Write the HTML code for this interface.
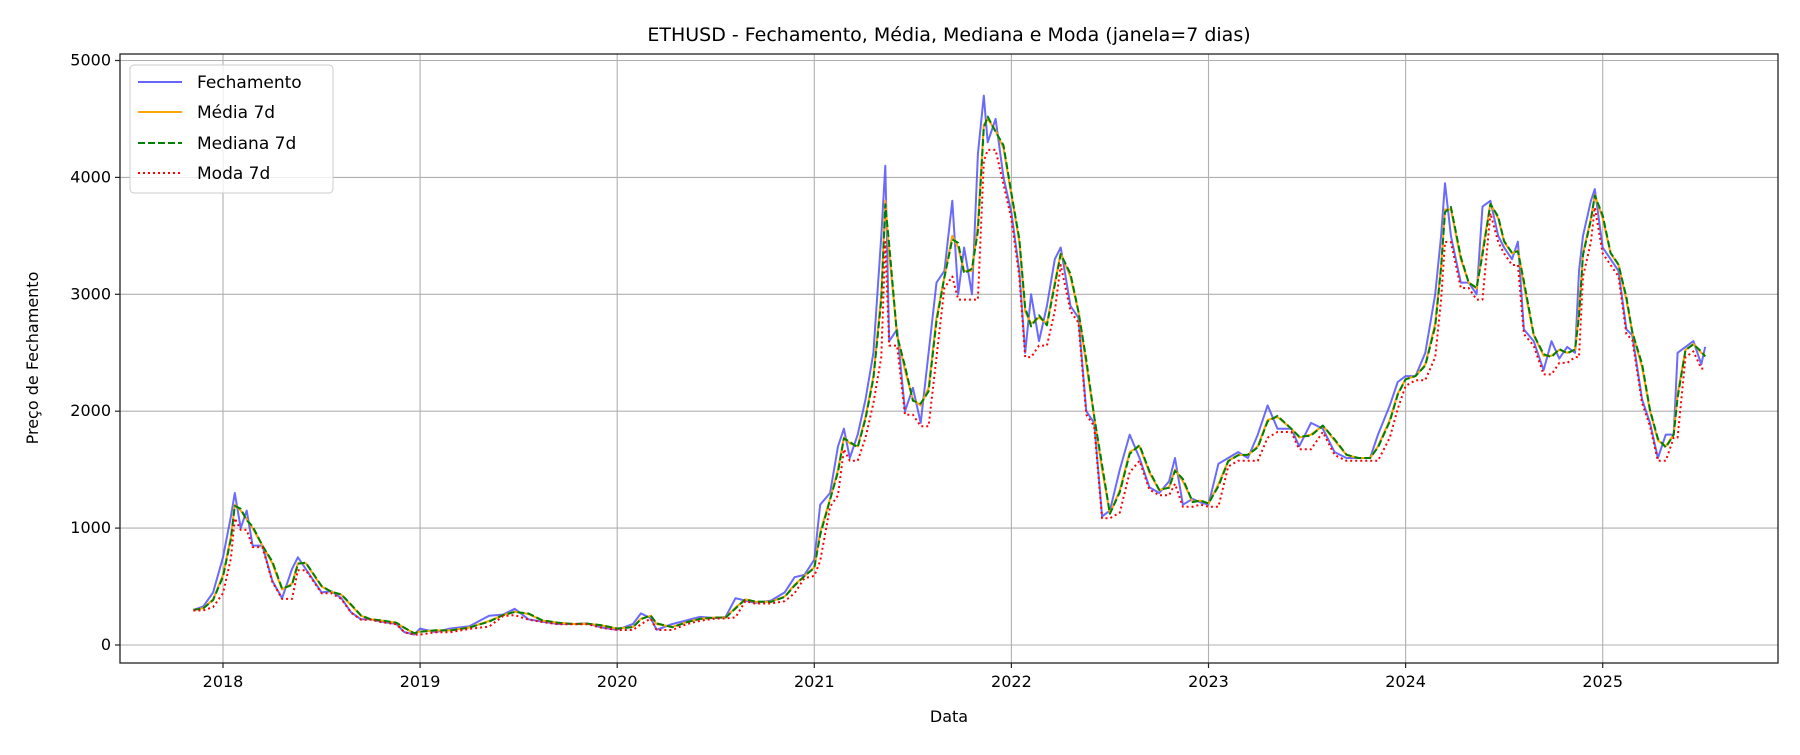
<!DOCTYPE html>
<html><head><meta charset="utf-8"><style>
body{margin:0;background:#fff;}
svg text{font-family:"DejaVu Sans","Liberation Sans",sans-serif;fill:#000;}
</style></head><body>
<svg id="chart" width="1800" height="750" xmlns="http://www.w3.org/2000/svg">
<rect width="1800" height="750" fill="#fff"/>
<text x="949" y="41" font-size="19" text-anchor="middle">ETHUSD - Fechamento, Média, Mediana e Moda (janela=7 dias)</text>
<g id="grid"></g>
<g id="series"></g>
<rect x="120" y="54" width="1658" height="609" fill="none" stroke="#222" stroke-width="1.3"/>
<g id="ticks"></g>
<text x="949" y="722" font-size="16" text-anchor="middle">Data</text>
<text x="0" y="0" font-size="16" text-anchor="middle" transform="translate(38,358) rotate(-90)">Preço de Fechamento</text>
<g>
<rect x="130" y="65" width="203" height="128" rx="4" fill="#fff" fill-opacity="0.8" stroke="#ccc"/>
<line x1="138" y1="82" x2="182" y2="82" stroke="#6666ff" stroke-width="2"/>
<text x="197" y="88" font-size="17">Fechamento</text>
<line x1="138" y1="112" x2="182" y2="112" stroke="orange" stroke-width="2"/>
<text x="197" y="118" font-size="17">Média 7d</text>
<line x1="138" y1="143" x2="182" y2="143" stroke="green" stroke-width="2" stroke-dasharray="7,3"/>
<text x="197" y="149" font-size="17">Mediana 7d</text>
<line x1="138" y1="173" x2="182" y2="173" stroke="red" stroke-width="2" stroke-dasharray="2,3"/>
<text x="197" y="179" font-size="17">Moda 7d</text>
</g>
</svg>
<script>
const dates=[2017.85,2017.9,2017.95,2018.0,2018.04,2018.06,2018.09,2018.12,2018.15,2018.2,2018.25,2018.3,2018.35,2018.38,2018.42,2018.46,2018.5,2018.55,2018.6,2018.65,2018.7,2018.75,2018.8,2018.88,2018.92,2018.97,2019.0,2019.08,2019.15,2019.25,2019.35,2019.42,2019.48,2019.55,2019.62,2019.7,2019.78,2019.85,2019.92,2020.0,2020.08,2020.12,2020.17,2020.2,2020.28,2020.35,2020.42,2020.5,2020.55,2020.6,2020.65,2020.7,2020.78,2020.85,2020.9,2020.95,2021.0,2021.03,2021.08,2021.12,2021.15,2021.18,2021.22,2021.26,2021.3,2021.34,2021.36,2021.38,2021.42,2021.46,2021.5,2021.54,2021.58,2021.62,2021.66,2021.7,2021.73,2021.76,2021.8,2021.83,2021.86,2021.88,2021.92,2021.96,2022.0,2022.04,2022.07,2022.1,2022.14,2022.18,2022.22,2022.25,2022.3,2022.34,2022.38,2022.42,2022.46,2022.5,2022.55,2022.6,2022.65,2022.7,2022.75,2022.8,2022.83,2022.87,2022.92,2022.96,2023.0,2023.05,2023.1,2023.15,2023.2,2023.25,2023.3,2023.35,2023.42,2023.46,2023.52,2023.58,2023.64,2023.7,2023.76,2023.82,2023.86,2023.92,2023.96,2024.0,2024.05,2024.1,2024.15,2024.18,2024.2,2024.23,2024.28,2024.32,2024.36,2024.39,2024.43,2024.47,2024.5,2024.54,2024.57,2024.6,2024.65,2024.7,2024.74,2024.78,2024.82,2024.86,2024.88,2024.9,2024.94,2024.96,2025.0,2025.04,2025.08,2025.12,2025.15,2025.2,2025.24,2025.28,2025.32,2025.36,2025.38,2025.42,2025.46,2025.5,2025.52];
const closes=[300,330,450,750,1100,1300,1000,1150,850,850,550,400,650,750,650,550,450,460,400,280,220,220,200,180,110,90,140,110,140,160,250,260,310,220,200,180,180,185,150,130,180,270,230,130,180,210,240,230,240,400,380,360,380,450,580,600,730,1200,1300,1700,1850,1600,1800,2100,2500,3500,4100,2600,2700,2000,2200,1900,2500,3100,3200,3800,3000,3400,3000,4200,4700,4300,4500,4000,3700,3200,2500,3000,2600,2900,3300,3400,2900,2800,2000,1900,1100,1150,1500,1800,1600,1350,1300,1400,1600,1200,1250,1220,1200,1550,1600,1650,1600,1800,2050,1850,1850,1700,1900,1850,1650,1600,1600,1600,1800,2050,2250,2300,2300,2500,3000,3500,3950,3500,3100,3100,3000,3750,3800,3500,3400,3300,3450,2700,2600,2350,2600,2450,2550,2500,3200,3500,3800,3900,3400,3300,3200,2700,2650,2100,1900,1600,1800,1800,2500,2550,2600,2400,2550];
const yTicks=[0,1000,2000,3000,4000,5000];
const xTicks=[2018,2019,2020,2021,2022,2023,2024,2025];

const X0=120,X1=1778,Y0=54,Y1=663;
const xs=v=>223+(v-2018)*197.1;
const ys=v=>645-v*0.1169;
const NS="http://www.w3.org/2000/svg";
function mk(t,a,p){const e=document.createElementNS(NS,t);for(const k in a)e.setAttribute(k,a[k]);p.appendChild(e);return e;}
const grid=document.getElementById('grid'),ticks=document.getElementById('ticks'),ser=document.getElementById('series');
yTicks.forEach(v=>{const y=ys(v);
 const g=mk('line',{x1:X0,x2:X1,y1:y,y2:y,stroke:'#b0b0b0','stroke-width':1.1},grid);
 
 
 mk('line',{x1:X0-5,x2:X0,y1:y,y2:y,stroke:'#222','stroke-width':1.2},ticks);
 const t=mk('text',{x:X0-9,y:y+5,'font-size':16,'text-anchor':'end'},ticks);t.textContent=v;
 
 
});
xTicks.forEach(v=>{const x=xs(v);
 const g=mk('line',{x1:x,x2:x,y1:Y0,y2:Y1,stroke:'#b0b0b0','stroke-width':1.1},grid);
 
 
 mk('line',{x1:x,x2:x,y1:Y1,y2:Y1+5,stroke:'#222','stroke-width':1.2},ticks);
 const t=mk('text',{x:x,y:Y1+24,'font-size':16,'text-anchor':'middle'},ticks);t.textContent=v;
 
 
});
const mean=closes.map((c,i)=>i?(c+closes[i-1])/2:c);
const median=closes.map((c,i)=>i?(c*0.45+closes[i-1]*0.55):c);
const mode=closes.map((c,i)=>i?Math.min(c,closes[i-1])*0.985:c*0.985);
function line(vals,col,dash,name){
 const pts=vals.map((v,i)=>xs(dates[i]).toFixed(1)+','+ys(v).toFixed(1)).join(' ');
 const p=mk('polyline',{points:pts,fill:'none',stroke:col,'stroke-width':2,'stroke-linejoin':'round'},ser);
 if(dash)p.setAttribute('stroke-dasharray',dash);
 
 
}
line(closes,'rgba(80,80,255,0.85)',null,'close-line');
line(mean,'orange',null,'mean-7d-line');
line(median,'green','7,3','median-7d-line');
line(mode,'red','2,3','mode-7d-line');
</script>
</body></html>
